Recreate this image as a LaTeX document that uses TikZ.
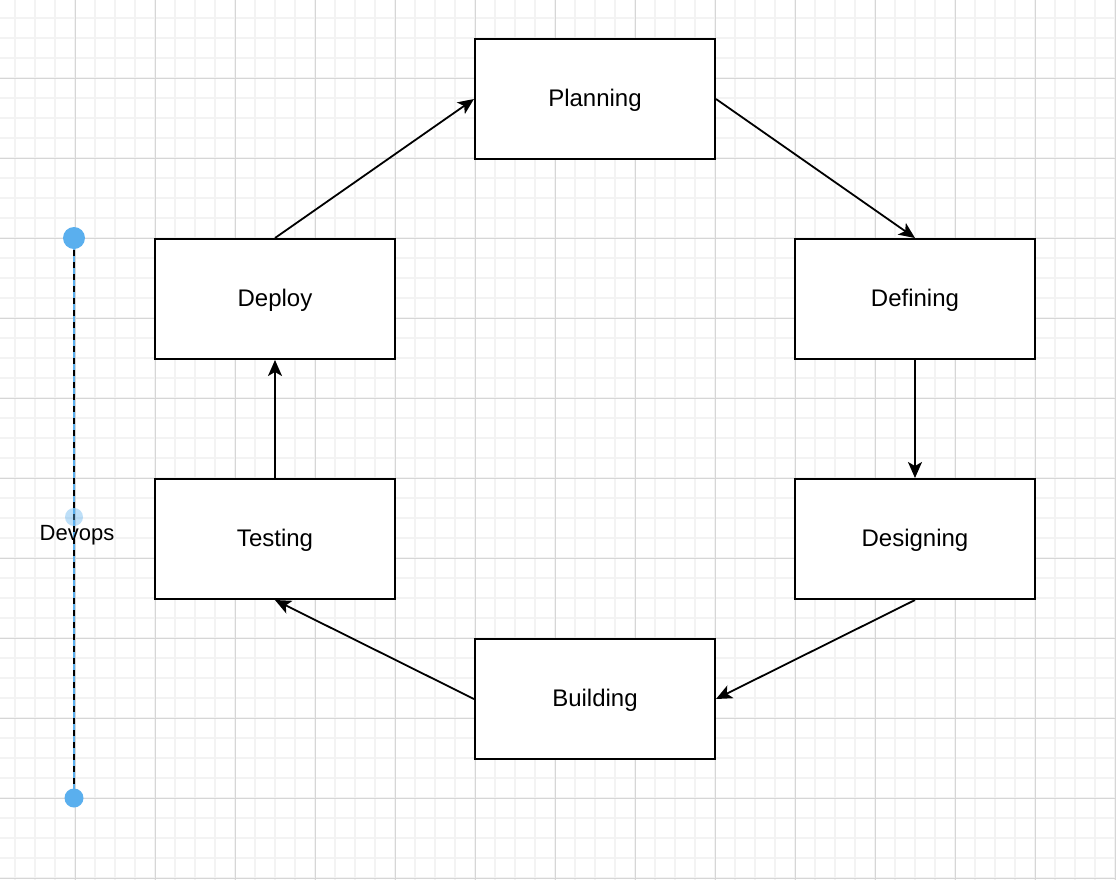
\documentclass[tikz,border=0pt]{standalone}
\usepackage{fontspec}
\setmainfont{Liberation Sans}
\usetikzlibrary{arrows.meta}
\definecolor{gmin}{HTML}{F3F3F3}
\definecolor{gmaj}{HTML}{D6D6D6}
\definecolor{dioblue}{HTML}{5AAFEE}
\begin{document}
\begin{tikzpicture}[x=0.5pt,y=-0.5pt,
  box/.style={draw,line width=1pt,minimum width=120pt,minimum height=60pt,inner sep=0pt,fill=white,font=\fontsize{12}{14}\selectfont,text height=10.3pt,text depth=2.5pt},
  flow/.style={line width=0.9pt,-{Stealth[length=8pt,width=7pt,inset=2pt]}},
  minorgrid/.style={gmin,line width=1pt},
  majorgrid/.style={gmaj,line width=0.5pt},
  handle/.style={circle,fill=dioblue,inner sep=0pt}]
\fill[white] (0,0) rectangle (1116,880);
\useasboundingbox (0,0) rectangle (1116,880);
% grid
\foreach \x in {15,35,...,1115} \draw[minorgrid] (\x,0) -- (\x,880);
\foreach \y in {18,38,...,878} \draw[minorgrid] (0,\y) -- (1116,\y);
\foreach \x in {75,155,...,1115} \draw[majorgrid] (\x,0) -- (\x,880);
\foreach \y in {78,158,...,878} \draw[majorgrid] (0,\y) -- (1116,\y);
% boxes
\node[box] (plan) at (595,99) {Planning};
\node[box] (deploy) at (275,299) {Deploy};
\node[box] (define) at (915,299) {Defining};
\node[box] (design) at (915,539) {Designing};
\node[box] (test) at (275,539) {Testing};
\node[box] (build) at (595,699) {Building};
% connectors
\draw[flow] (plan.east) -- (define.north);
\draw[flow] (define.south) -- (design.north);
\draw[flow] (design.south) -- (build.east);
\draw[flow] (build.west) -- (test.south);
\draw[flow] (test.north) -- (deploy.south);
\draw[flow] (deploy.north) -- (plan.west);
% devops line
\coordinate (dtop) at (74,238);
\coordinate (dbot) at (74,798);
\draw[dioblue,line width=1pt] (dtop) -- (dbot);
\draw[black,line width=1pt,dash pattern=on 3pt off 3pt] (dtop) -- (dbot);
\node[handle,minimum size=11pt] (ctop) at (dtop) {};
\node[handle,minimum size=9.5pt] (cbot) at (dbot) {};
\node[handle,minimum size=9pt,fill opacity=0.4] (cmid) at (74,517) {};
\node[font=\fontsize{11}{13}\selectfont,inner sep=0pt] (devops) at (77,535) {Devops};
\end{tikzpicture}
\end{document}
